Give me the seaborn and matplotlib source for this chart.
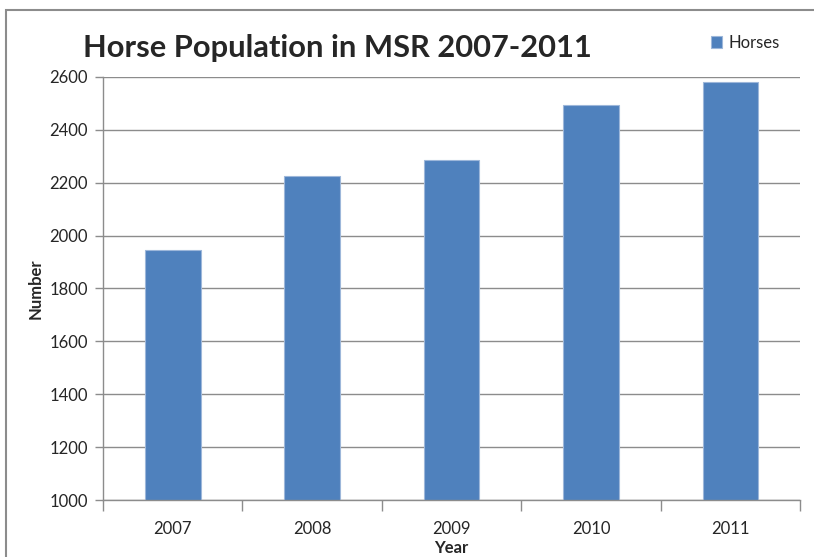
import matplotlib
matplotlib.use("Agg")
import matplotlib.pyplot as plt
from matplotlib.patches import Rectangle
import seaborn as sns
import pandas as pd

years = ["2007", "2008", "2009", "2010", "2011"]
horses = [1945, 2226, 2285, 2494, 2580]
yticks = [1000, 1200, 1400, 1600, 1800, 2000, 2200, 2400, 2600]

sns.set_theme(style="white")
plt.rcParams["font.family"] = ["Lato", "DejaVu Sans"]

df = pd.DataFrame({"Year": years, "Number": horses})

fig = plt.figure(figsize=(8.14, 5.57), dpi=100)
ax = fig.add_axes([0.1265, 0.1023, 0.8565, 0.7595])

bar_color = "#4F81BD"
sns.barplot(data=df, x="Year", y="Number", color=bar_color, width=0.4,
            saturation=1, edgecolor="#9DB7DA", linewidth=0.8, ax=ax,
            label="Horses")

ax.set_ylim(1000, 2600)
ax.set_xlim(-0.5, 4.5)
ax.set_yticks(yticks)
ax.set_yticklabels([str(v) for v in yticks])
ax.yaxis.grid(True, color="#8C8C8C", linewidth=1.0)
ax.set_axisbelow(True)

for side in ("top", "right"):
    ax.spines[side].set_visible(False)
for side in ("left", "bottom"):
    ax.spines[side].set_color("#8C8C8C")
    ax.spines[side].set_linewidth(1.0)

ax.tick_params(axis="y", which="major", direction="out", length=6, width=1,
               color="#8C8C8C", labelsize=12, pad=5, left=True)
ax.tick_params(axis="x", which="major", length=0, labelsize=12, pad=15)
ax.set_xticks([i - 0.5 for i in range(len(years) + 1)], minor=True)
ax.tick_params(axis="x", which="minor", direction="out", length=8, width=1,
               color="#8C8C8C", bottom=True)

ax.set_xlabel("Year", fontsize=12, fontweight="bold", labelpad=2)
ax.set_ylabel("Number", fontsize=12, fontweight="bold", labelpad=4)

fig.text(0.102, 0.914, "Horse Population in MSR 2007-2011", fontsize=22.2,
         fontweight="bold", ha="left", va="center")

leg = ax.legend(loc="upper left", bbox_to_anchor=(0.862, 1.115), frameon=False,
                fontsize=12, handlelength=0.7, handleheight=0.7,
                handletextpad=0.4, borderaxespad=0)

fig.add_artist(Rectangle((6 / 814, -0.1), 1.2, 1 - 10 / 557 + 0.1,
                         transform=fig.transFigure, fill=False,
                         edgecolor="#8C8C8C", linewidth=1.5))

fig.savefig("out.png", dpi=100)
